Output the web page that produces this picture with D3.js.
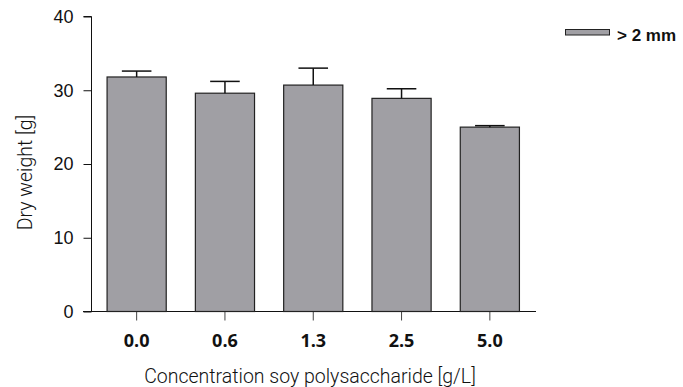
<!DOCTYPE html>
<html>
<head>
<meta charset="utf-8">
<script src="https://cdn.jsdelivr.net/npm/d3@7"></script>
<style>
  body { margin: 0; background: #fff; }
</style>
</head>
<body>
<div id="chart"></div>
<script>
var svgWidth = 683;
var svgHeight = 387;

// data
var concentrations = ["0.0", "0.6", "1.3", "2.5", "5.0"];
var dryWeight = [31.8, 29.6, 30.7, 28.9, 25.0];
var errorUpper = [0.8, 1.6, 2.3, 1.3, 0.2];
var yTicks = [0, 10, 20, 30, 40];
var legendLabel = "> 2 mm";

var svg = d3.select("#chart")
  .append("svg")
  .attr("width", svgWidth)
  .attr("height", svgHeight);

var barColor = "#a09fa4";

// scales
var xScale = d3.scaleBand()
  .domain(concentrations)
  .range([92.5, 534])
  .paddingInner(0.33)
  .paddingOuter(0.165);

var yScale = d3.scaleLinear()
  .domain([0, 40])
  .range([311.5, 16.5]);

// y axis
var yAxis = svg.append("g")
  .attr("transform", "translate(91.5,0)")
  .call(d3.axisLeft(yScale).tickValues(yTicks).tickSize(8).tickPadding(10));
yAxis.select(".domain").attr("d", "M-8," + yScale(40) + "H0V" + yScale(0));
yAxis.selectAll("text")
  .attr("font-family", "Liberation Sans, Arial, sans-serif")
  .attr("font-size", 18)
  .attr("fill", "#111");
yAxis.selectAll("line").attr("stroke", "#111");
yAxis.select(".domain").attr("stroke", "#111");

// x axis
var xAxis = svg.append("g")
  .attr("transform", "translate(0," + yScale(0) + ")")
  .call(d3.axisBottom(xScale).tickSize(9).tickPadding(14));
xAxis.select(".domain").attr("d", "M83,0H536").attr("stroke", "#111");
xAxis.selectAll("line").attr("stroke", "#444");
xAxis.selectAll("text")
  .attr("font-family", "Open Sans, sans-serif")
  .attr("font-weight", "bold")
  .attr("font-size", 18)
  .attr("fill", "#111");

// bars
svg.selectAll(".bar")
  .data(dryWeight)
  .enter()
  .append("rect")
  .attr("class", "bar")
  .attr("x", (d, i) => xScale(concentrations[i]))
  .attr("y", d => yScale(d))
  .attr("width", xScale.bandwidth())
  .attr("height", d => yScale(0) - yScale(d))
  .attr("fill", barColor)
  .attr("stroke", "#222")
  .attr("stroke-width", 1.2);

// error bars (upper only)
var capW = xScale.bandwidth() / 2;
var errGroup = svg.selectAll(".err")
  .data(dryWeight)
  .enter()
  .append("g")
  .attr("class", "err")
  .attr("stroke", "#111")
  .attr("stroke-width", 1.5);

errGroup.append("line")
  .attr("x1", (d, i) => xScale(concentrations[i]) + xScale.bandwidth() / 2)
  .attr("x2", (d, i) => xScale(concentrations[i]) + xScale.bandwidth() / 2)
  .attr("y1", d => yScale(d))
  .attr("y2", (d, i) => yScale(d + errorUpper[i]));

errGroup.append("line")
  .attr("x1", (d, i) => xScale(concentrations[i]) + xScale.bandwidth() / 2 - capW / 2)
  .attr("x2", (d, i) => xScale(concentrations[i]) + xScale.bandwidth() / 2 + capW / 2)
  .attr("y1", (d, i) => yScale(d + errorUpper[i]))
  .attr("y2", (d, i) => yScale(d + errorUpper[i]));

// axis titles
svg.append("text")
  .attr("transform", "translate(32,172.5) rotate(-90)")
  .attr("text-anchor", "middle")
  .attr("font-family", "Roboto, sans-serif")
  .attr("font-weight", 300)
  .attr("font-size", 19.5)
  .attr("fill", "#111")
  .text("Dry weight [g]");

svg.append("text")
  .attr("x", 310)
  .attr("y", 383)
  .attr("text-anchor", "middle")
  .attr("font-family", "Roboto, sans-serif")
  .attr("font-weight", 300)
  .attr("font-size", 19.5)
  .attr("fill", "#111")
  .text("Concentration soy polysaccharide [g/L]");

// legend
svg.append("rect")
  .attr("x", 565.5)
  .attr("y", 29.5)
  .attr("width", 44)
  .attr("height", 5.5)
  .attr("fill", barColor)
  .attr("stroke", "#222")
  .attr("stroke-width", 1);

svg.append("text")
  .attr("x", 617)
  .attr("y", 41)
  .attr("font-family", "Liberation Sans, Arial, sans-serif")
  .attr("font-weight", "bold")
  .attr("font-size", 17)
  .attr("fill", "#111")
  .text(legendLabel);
</script>
</body>
</html>
